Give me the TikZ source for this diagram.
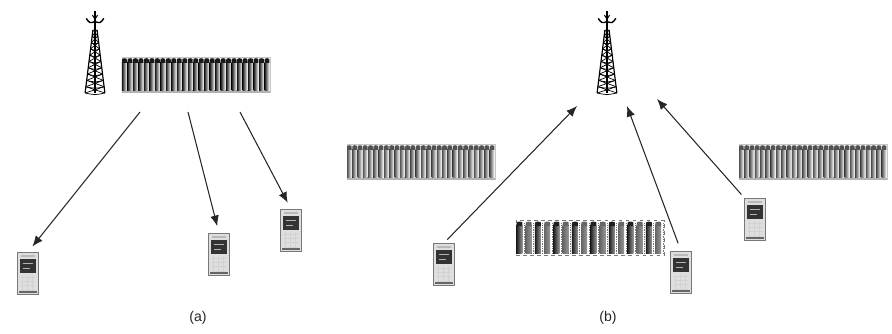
\documentclass[tikz,border=0pt]{standalone}
\usepackage{fontspec}
\setmainfont{Liberation Sans}
\usetikzlibrary{arrows.meta}
\definecolor{ink}{RGB}{38,38,38}
\definecolor{steel}{RGB}{120,120,120}
\definecolor{shell}{RGB}{222,222,222}

% pickets of a fence, drawn in the unit square of node #1
\newcommand\pickets[3]{%
  \begin{scope}[shift={(#1.south west)},x=4.44cm,y=1.05cm]
    \foreach \i in {1,...,#2}{
      \pgfmathsetmacro\xa{(\i-1)/#2}
      \pgfmathsetmacro\xb{(\i-0.1)/#2}
      \pgfmathsetmacro\xm{(\i-0.55)/#2}
      \fill[left color=black!#3, right color=white] (\xa,0.05) rectangle (\xb,0.87);
      \fill[black!#3] (\xa,0.85) .. controls (\xa,0.98) .. (\xm,0.98) .. controls (\xb,0.98) .. (\xb,0.85) -- cycle;
    }
    \fill[gray!60] (0,0) rectangle (1,0.05);
  \end{scope}}
% wide-spaced pickets with dotted gaps
\newcommand\sparsepickets[2]{%
  \begin{scope}[shift={(#1.south west)},x=4.44cm,y=1.05cm]
    \foreach \i in {1,...,#2}{
      \pgfmathsetmacro\xa{(\i-0.95)/#2}
      \pgfmathsetmacro\xb{(\i-0.3)/#2}
      \pgfmathsetmacro\xm{(\i-0.62)/#2}
      \pgfmathsetmacro\xd{(\i-0.12)/#2}
      \pgfmathsetmacro\sh{ifthenelse(mod(\i,2)==1,88,60)}
      \fill[left color=black!\sh, right color=black!40] (\xa,0.05) rectangle (\xb,0.86);
      \fill[black!\sh] (\xa,0.84) .. controls (\xa,0.97) .. (\xm,0.97) .. controls (\xb,0.97) .. (\xb,0.84) -- cycle;
      \draw[densely dotted, steel, line width=0.5pt] (\xd,0.05) -- (\xd,0.92);
    }
  \end{scope}}
% face of a handset
\newcommand\handsetface[1]{%
  \begin{scope}[shift={(#1.south west)},x=0.63cm,y=1.26cm]
    \fill[gray!55] (0.15,0.89) rectangle (0.85,0.94);
    \fill[black!80] (0.14,0.5) rectangle (0.86,0.84);
    \draw[gray!60, line width=0.4pt] (0.25,0.74) -- (0.75,0.74) (0.25,0.62) -- (0.6,0.62);
    \draw[gray!35, line width=0.3pt] (0.15,0.1) grid[xstep=0.233,ystep=0.1] (0.85,0.45);
    \fill[black!60] (0.05,0.02) rectangle (0.95,0.06);
  \end{scope}}
% lattice tower with its antenna
\newcommand\mastlattice[1]{%
  \begin{scope}[shift={(#1.south west)},x=0.78cm,y=2.46cm,line width=0.6pt]
    \draw[line width=1pt] (0.12,0) -- (0.42,0.77) (0.88,0) -- (0.58,0.77);
    \foreach \k in {0,...,9}{
      \pgfmathsetmacro\ya{0.077*\k}
      \pgfmathsetmacro\yb{0.077*(\k+1)}
      \pgfmathsetmacro\la{0.12+0.03*\k}
      \pgfmathsetmacro\lb{0.12+0.03*(\k+1)}
      \pgfmathsetmacro\ra{0.88-0.03*\k}
      \pgfmathsetmacro\rb{0.88-0.03*(\k+1)}
      \pgfmathsetmacro\yc{\ya-0.025}
      \draw (\la,\ya) -- (\rb,\yb) (\ra,\ya) -- (\lb,\yb);
      \draw (\la,\ya) .. controls (0.5,\yc) .. (\ra,\ya);
    }
    \draw[line width=1pt] (0.5,0) -- (0.5,1);
    \draw[line width=1.2pt] (0.16,0.91) .. controls (0.3,0.85) .. (0.5,0.87) .. controls (0.7,0.85) .. (0.84,0.91);
    \draw[line width=0.8pt] (0.4,0.95) -- (0.5,0.9) -- (0.6,0.95);
  \end{scope}}

\tikzset{
  handset/.style={draw=steel, fill=shell, minimum width=0.63cm, minimum height=1.26cm,
                  inner sep=0pt, outer sep=0pt},
  mast/.style={minimum width=0.78cm, minimum height=2.46cm, inner sep=0pt, outer sep=0pt},
  fence/.style={draw=gray!45, minimum width=4.44cm, minimum height=1.05cm,
                inner sep=0pt, outer sep=0pt},
  sparsefence/.style={draw=steel, dashed, minimum width=4.44cm, minimum height=1.05cm,
                      inner sep=0pt, outer sep=0pt},
  link/.style={-{Latex[length=3.2mm,width=2.6mm]}, line width=0.9pt, draw=ink},
  caption/.style={font=\fontsize{12}{14}\selectfont, text=ink},
}

\begin{document}
\begin{tikzpicture}[x=0.03cm, y=-0.03cm]
  \useasboundingbox (0,0) rectangle (892,333);

  % (a) downlink
  \node[mast]  (mastA)  at (95,52) {};
  \node[fence] (fenceA) at (196,75) {};
  \node[handset] (pa1) at (28,273) {};
  \node[handset] (pa2) at (219,254) {};
  \node[handset] (pa3) at (291,230) {};
  \coordinate (sa1) at (140,112);
  \coordinate (sa2) at (188,112);
  \coordinate (sa3) at (240,112);
  \draw[link, shorten >=6pt] (sa1) -- (pa1.north);
  \draw[link, shorten >=6pt] (sa2) -- (pa2.north);
  \draw[link, shorten >=6pt] (sa3) -- (pa3.north);
  \node[caption] (capa) at (198,318) {(a)};

  % (b) uplink
  \node[mast] (mastB) at (607,52) {};
  \node[fence] (fenceB1) at (421,162) {};
  \node[sparsefence] (fenceB2) at (590,238) {};
  \node[fence] (fenceB3) at (813,162) {};
  \node[handset] (pb1) at (444,264) {};
  \node[handset] (pb2) at (681,272) {};
  \node[handset] (pb3) at (755,219) {};
  \coordinate (tb1) at (577,106);
  \coordinate (tb2) at (627,106);
  \coordinate (tb3) at (657,99);
  \draw[link, shorten <=4pt] (pb1.north) -- (tb1);
  \draw[link, shorten <=7pt] (pb2.north) -- (tb2);
  \draw[link, shorten <=4pt] (pb3.north west) -- (tb3);
  \node[caption] (capb) at (608,318) {(b)};

  % icons on top of the nodes
  \foreach \m in {mastA,mastB} \mastlattice{\m};
  \pickets{fenceA}{27}{90}
  \foreach \f in {fenceB1,fenceB3} \pickets{\f}{28}{68};
  \sparsepickets{fenceB2}{16}
  \foreach \p in {pa1,pa2,pa3,pb1,pb2,pb3} \handsetface{\p};
\end{tikzpicture}
\end{document}
